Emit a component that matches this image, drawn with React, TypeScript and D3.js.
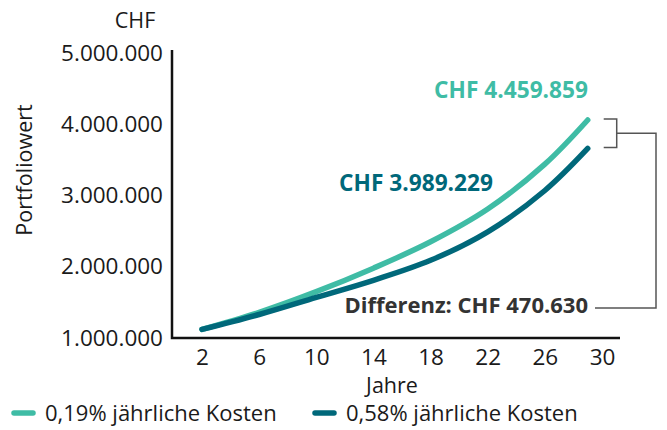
import { useEffect, useRef } from "react"
import * as d3 from "d3"

const years = [2, 6, 10, 14, 18, 22, 26, 29]
const lowCost = [1120000, 1360000, 1650000, 1980000, 2350000, 2810000, 3440000, 4060000]
const highCost = [1120000, 1330000, 1570000, 1810000, 2090000, 2490000, 3070000, 3660000]
const xTicks = [2, 6, 10, 14, 18, 22, 26, 30]
const yTicks = [1000000, 2000000, 3000000, 4000000, 5000000]
const seriesNames = ["0,19% jährliche Kosten", "0,58% jährliche Kosten"]
const endLabels = ["CHF 4.459.859", "CHF 3.989.229"]
const diffLabel = "Differenz: CHF 470.630"

const colors = ["#3fbca5", "#00687a"]
const font = "'Open Sans', sans-serif"

export default function App() {
  const svgRef = useRef<SVGSVGElement>(null)

  useEffect(() => {
    if (!svgRef.current) return
    const svg = d3.select(svgRef.current)
    svg.selectAll("*").remove()

    const x = d3.scaleLinear().domain([-0.1, 31.26]).range([172, 620])
    const y = d3.scaleLinear().domain([1000000, 5000000]).range([338, 53])
    const locale = d3.formatLocale({ decimal: ",", thousands: ".", grouping: [3], currency: ["", ""] })
    const fmt = locale.format(",")

    // y tick labels
    svg.append("g")
      .attr("transform", "translate(172,0)")
      .call(d3.axisLeft(y).tickValues(yTicks).tickSize(0).tickPadding(9).tickFormat((d) => fmt(d as number)))
      .call((g) => g.select(".domain").remove())
      .selectAll("text")
      .attr("font-family", font)
      .attr("font-size", "22.5px")
      .attr("fill", "#1a1a1a")

    // x tick labels
    svg.append("g")
      .attr("transform", "translate(0,338)")
      .call(d3.axisBottom(x).tickValues(xTicks).tickSize(0).tickPadding(11))
      .call((g) => g.select(".domain").remove())
      .selectAll("text")
      .attr("font-family", font)
      .attr("font-size", "22.5px")
      .attr("fill", "#1a1a1a")

    // axis lines
    svg.append("path")
      .attr("d", `M${x(-0.1)},50V${y(1000000)}H${x(31.26)}`)
      .attr("fill", "none")
      .attr("stroke", "#111")
      .attr("stroke-width", 2.5)

    // titles
    svg.append("text").attr("x", 135).attr("y", 28).attr("text-anchor", "middle")
      .attr("font-family", font).attr("font-size", "21.5px").attr("fill", "#1a1a1a").text("CHF")
    svg.append("text").attr("transform", "translate(32,170) rotate(-90)").attr("text-anchor", "middle")
      .attr("font-family", font).attr("font-size", "21.5px").attr("fill", "#1a1a1a").text("Portfoliowert")
    svg.append("text").attr("x", 392).attr("y", 393).attr("text-anchor", "middle")
      .attr("font-family", font).attr("font-size", "21.5px").attr("fill", "#1a1a1a").text("Jahre")

    // lines
    const line = d3.line<number>()
      .x((_, i) => x(years[i]))
      .y((d) => y(d))
      .curve(d3.curveCatmullRom)
    ;[lowCost, highCost].forEach((s, i) => {
      svg.append("path")
        .attr("d", line(s))
        .attr("fill", "none")
        .attr("stroke", colors[i])
        .attr("stroke-width", 5.5)
        .attr("stroke-linecap", "round")
    })

    // end labels
    svg.append("text").attr("x", 588).attr("y", 98).attr("text-anchor", "end")
      .attr("font-family", font).attr("font-weight", 700).attr("font-size", "22.7px")
      .attr("fill", colors[0]).text(endLabels[0])
    svg.append("text").attr("x", 493).attr("y", 191).attr("text-anchor", "end")
      .attr("font-family", font).attr("font-weight", 700).attr("font-size", "22.7px")
      .attr("fill", colors[1]).text(endLabels[1])
    svg.append("text").attr("x", 588).attr("y", 313).attr("text-anchor", "end")
      .attr("font-family", font).attr("font-weight", 700).attr("font-size", "22px")
      .attr("fill", "#333").text(diffLabel)

    // difference bracket
    const lastIdx = years.length - 1
    const yTop = y(lowCost[lastIdx]) - 1
    const yBot = y(highCost[lastIdx]) - 1
    const bx = x(years[lastIdx]) + 29
    const bMid = (yTop + yBot) / 2
    svg.append("path")
      .attr("d", `M${bx - 13},${yTop}H${bx}V${yBot}H${bx - 13}M${bx},${bMid}H656V308H595`)
      .attr("fill", "none")
      .attr("stroke", "#555")
      .attr("stroke-width", 1.5)

    // legend
    const legendX = [12, 313]
    seriesNames.forEach((name, i) => {
      const g = svg.append("g").attr("transform", `translate(${legendX[i]},413)`)
      g.append("line").attr("x1", 2).attr("x2", 21).attr("y1", 0).attr("y2", 0)
        .attr("stroke", colors[i]).attr("stroke-width", 5.5).attr("stroke-linecap", "round")
      g.append("text").attr("x", 33).attr("y", 7.5)
        .attr("font-family", font).attr("font-size", "22px").attr("fill", "#1a1a1a").text(name)
    })
  }, [])

  return (
    <svg
      ref={svgRef}
      width={667}
      height={430}
      style={{ position: "absolute", left: 0, top: 0, background: "#fff" }}
    />
  )
}
